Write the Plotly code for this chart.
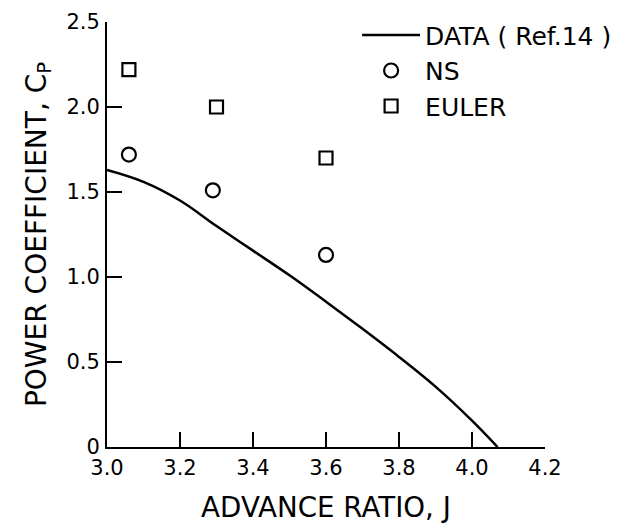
import plotly.graph_objects as go

# Measured curve (Ref.14)
data_j = [3.00, 3.10, 3.20, 3.30, 3.40, 3.50, 3.60, 3.70, 3.80, 3.90, 4.00, 4.07]
data_cp = [1.63, 1.56, 1.45, 1.30, 1.155, 1.01, 0.855, 0.695, 0.53, 0.355, 0.155, 0.00]

# Navier-Stokes results
ns_j = [3.06, 3.29, 3.60]
ns_cp = [1.72, 1.51, 1.13]

# Euler results
euler_j = [3.06, 3.30, 3.60]
euler_cp = [2.22, 2.00, 1.70]

x_ticks = [3.0, 3.2, 3.4, 3.6, 3.8, 4.0, 4.2]
x_ticktext = ["3.0", "3.2", "3.4", "3.6", "3.8", "4.0", "4.2"]
y_ticks = [0, 0.5, 1.0, 1.5, 2.0, 2.5]
y_ticktext = ["0", "0.5", "1.0", "1.5", "2.0", "2.5"]

FONT = "DejaVu Sans"

fig = go.Figure()
fig.add_trace(go.Scatter(
    x=data_j, y=data_cp, mode="lines", name="DATA ( Ref.14 )",
    line=dict(color="black", width=2.5, shape="spline", smoothing=1.0),
    showlegend=True))
fig.add_trace(go.Scatter(
    x=ns_j, y=ns_cp, mode="markers", name="NS",
    marker=dict(symbol="circle-open", size=14, color="black",
                line=dict(width=2.2, color="black"))))
fig.add_trace(go.Scatter(
    x=euler_j, y=euler_cp, mode="markers", name="EULER",
    marker=dict(symbol="square-open", size=13, color="black",
                line=dict(width=2.2, color="black"))))

fig.update_layout(
    template="none",
    width=629, height=524,
    margin=dict(l=107, r=84, t=20, b=77),
    paper_bgcolor="white", plot_bgcolor="white",
    font=dict(family=FONT, color="black", size=20),
    legend=dict(x=0.571, xanchor="left", y=1.023, yanchor="top",
                font=dict(size=25, family=FONT),
                bgcolor="rgba(0,0,0,0)", borderwidth=0,
                itemwidth=58, tracegroupgap=0),
    xaxis=dict(range=[3.0, 4.2], tickvals=x_ticks, ticktext=x_ticktext,
               showline=True, linecolor="black", linewidth=2, mirror=False,
               ticks="inside", ticklen=15, tickwidth=2, tickcolor="black",
               showgrid=False, zeroline=False, automargin=False,
               ticklabelstandoff=1,
               tickfont=dict(size=21, family=FONT),
               title=dict(text="ADVANCE RATIO, J", font=dict(size=27.7, family=FONT),
                          standoff=20)),
    yaxis=dict(range=[0, 2.5], tickvals=y_ticks, ticktext=y_ticktext,
               showline=True, linecolor="black", linewidth=2, mirror=False,
               ticks="inside", ticklen=15, tickwidth=2, tickcolor="black",
               showgrid=False, zeroline=False, automargin=False,
               ticklabelstandoff=1,
               tickfont=dict(size=21, family=FONT),
               title=dict(text="POWER COEFFICIENT, C<sub>P</sub>",
                          font=dict(size=28, family=FONT), standoff=12)),
)

fig.write_html(
    "out.html",
    config={"displayModeBar": False},
    post_script="document.body.style.margin='0';document.body.style.overflow='hidden';",
)
